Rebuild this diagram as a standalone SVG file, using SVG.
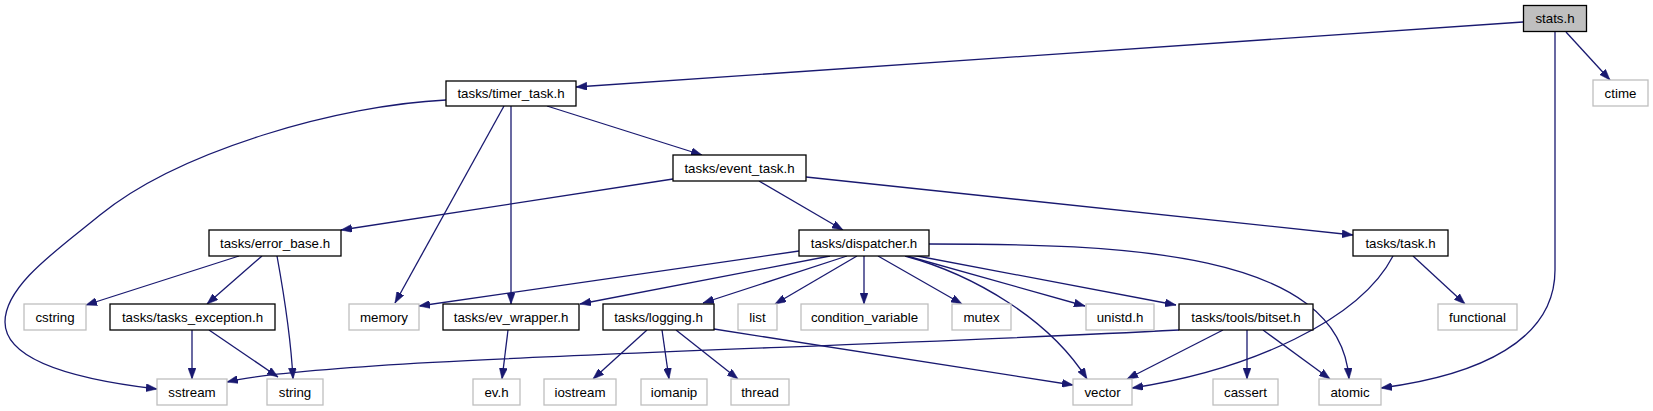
<svg xmlns="http://www.w3.org/2000/svg" width="1653" height="411" viewBox="0 0 1653 411">
<style>
.n rect{fill:#fff;stroke:#000;stroke-width:1.3}
.n.ext rect{stroke:#bfbfbf}
.n.main rect{fill:#bfbfbf}
.n text{font-family:"Liberation Sans",Arial,sans-serif;font-size:13.3px;text-anchor:middle;fill:#000}
.e path{fill:none;stroke:#191970;stroke-width:1.3;marker-end:url(#ah)}
</style>
<defs>
<marker id="ah" markerUnits="userSpaceOnUse" markerWidth="11" markerHeight="8" viewBox="0 0 11 8" refX="11" refY="4" orient="auto">
<path d="M0,0 L11,4 L0,8 z" fill="#191970" stroke="#191970" stroke-width="0.5"/>
</marker>
</defs>
<rect width="1653" height="411" fill="#fff"/>
<g id="connectors" class="e">
<path d="M1523,22 L576,87"/>
<path d="M1566,32 L1610,80"/>
<path d="M1555,32 L1555,270 C1555,340 1480,375 1381,388"/>
<path d="M547,106 L702,155"/>
<path d="M446,100 C340,105 180,150 100,215 C60,248 5,285 5,322 C5,362 80,380 157,389"/>
<path d="M504,106 L395,303"/>
<path d="M511,106 L511,304"/>
<path d="M673,179 L341,230"/>
<path d="M759,181 L843,230"/>
<path d="M806,177 L1353,235"/>
<path d="M239,256 L86,305"/>
<path d="M262,256 L207,304"/>
<path d="M277,256 C285,300 291,340 293,379"/>
<path d="M192,330 L192,379"/>
<path d="M209,330 L278,377"/>
<path d="M799,251 L419,306"/>
<path d="M830,256 L580,304"/>
<path d="M847,256 L703,303"/>
<path d="M857,256 L775,304"/>
<path d="M864,256 L864,304"/>
<path d="M878,256 L962,304"/>
<path d="M905,256 C975,275 1050,320 1087,379"/>
<path d="M907,256 L1085,306"/>
<path d="M912,255 L1176,305"/>
<path d="M929,244 C1120,244 1340,250 1349,379"/>
<path d="M647,330 L593,379"/>
<path d="M662,330 L669,379"/>
<path d="M676,330 L738,379"/>
<path d="M714,329 L1073,385"/>
<path d="M508,330 L502,379"/>
<path d="M1179,330 C800,350 330,358 227,382"/>
<path d="M1223,330 L1127,379"/>
<path d="M1247,330 L1247,379"/>
<path d="M1263,330 L1330,379"/>
<path d="M1393,256 C1360,320 1250,370 1132,388"/>
<path d="M1413,256 L1465,304"/>
</g>
<g id="stats" class="n main"><rect x="1523.5" y="5.5" width="63" height="26"/><text x="1555" y="23.2">stats.h</text></g>
<g id="ctime" class="n ext"><rect x="1593" y="80" width="55" height="26"/><text x="1620.5" y="97.7">ctime</text></g>
<g id="timer_task" class="n"><rect x="446" y="81" width="130" height="25"/><text x="511" y="98.2">tasks/timer_task.h</text></g>
<g id="event_task" class="n"><rect x="673" y="155" width="133" height="26"/><text x="739.5" y="172.7">tasks/event_task.h</text></g>
<g id="error_base" class="n"><rect x="209" y="230" width="132" height="26"/><text x="275" y="247.7">tasks/error_base.h</text></g>
<g id="dispatcher" class="n"><rect x="799" y="230" width="130" height="26"/><text x="864" y="247.7">tasks/dispatcher.h</text></g>
<g id="task" class="n"><rect x="1353" y="230" width="95" height="26"/><text x="1400.5" y="247.7">tasks/task.h</text></g>
<g id="cstring" class="n ext"><rect x="24" y="304" width="62" height="26"/><text x="55" y="321.7">cstring</text></g>
<g id="tasks_exception" class="n"><rect x="110" y="304" width="165" height="26"/><text x="192.5" y="321.7">tasks/tasks_exception.h</text></g>
<g id="memory" class="n ext"><rect x="349" y="304" width="70" height="26"/><text x="384" y="321.7">memory</text></g>
<g id="ev_wrapper" class="n"><rect x="443" y="304" width="136" height="26"/><text x="511" y="321.7">tasks/ev_wrapper.h</text></g>
<g id="logging" class="n"><rect x="603" y="304" width="111" height="26"/><text x="658.5" y="321.7">tasks/logging.h</text></g>
<g id="list" class="n ext"><rect x="738" y="304" width="39" height="26"/><text x="757.5" y="321.7">list</text></g>
<g id="condition_variable" class="n ext"><rect x="801" y="304" width="127" height="26"/><text x="864.5" y="321.7">condition_variable</text></g>
<g id="mutex" class="n ext"><rect x="952" y="304" width="59" height="26"/><text x="981.5" y="321.7">mutex</text></g>
<g id="unistd" class="n ext"><rect x="1086" y="304" width="68" height="26"/><text x="1120" y="321.7">unistd.h</text></g>
<g id="bitset" class="n"><rect x="1179" y="304" width="134" height="26"/><text x="1246" y="321.7">tasks/tools/bitset.h</text></g>
<g id="functional" class="n ext"><rect x="1438" y="304" width="79" height="26"/><text x="1477.5" y="321.7">functional</text></g>
<g id="sstream" class="n ext"><rect x="157" y="379" width="70" height="26"/><text x="192" y="396.7">sstream</text></g>
<g id="string" class="n ext"><rect x="267" y="379" width="56" height="26"/><text x="295" y="396.7">string</text></g>
<g id="evh" class="n ext"><rect x="473" y="379" width="47" height="26"/><text x="496.5" y="396.7">ev.h</text></g>
<g id="iostream" class="n ext"><rect x="544" y="379" width="72" height="26"/><text x="580" y="396.7">iostream</text></g>
<g id="iomanip" class="n ext"><rect x="641" y="379" width="66" height="26"/><text x="674" y="396.7">iomanip</text></g>
<g id="thread" class="n ext"><rect x="731" y="379" width="58" height="26"/><text x="760" y="396.7">thread</text></g>
<g id="vector" class="n ext"><rect x="1073" y="379" width="59" height="26"/><text x="1102.5" y="396.7">vector</text></g>
<g id="cassert" class="n ext"><rect x="1213" y="379" width="65" height="26"/><text x="1245.5" y="396.7">cassert</text></g>
<g id="atomic" class="n ext"><rect x="1319" y="379" width="62" height="26"/><text x="1350" y="396.7">atomic</text></g>
</svg>
